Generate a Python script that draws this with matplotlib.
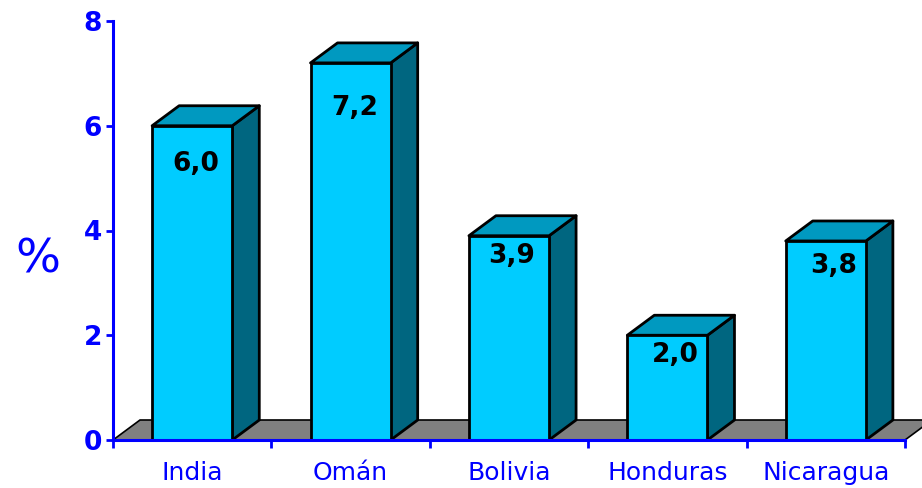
import matplotlib.pyplot as plt
from matplotlib.patches import Polygon

# data
countries = ['India', 'Omán', 'Bolivia', 'Honduras', 'Nicaragua']
values = [6.0, 7.2, 3.9, 2.0, 3.8]
value_labels = ['6,0', '7,2', '3,9', '2,0', '3,8']
yticks = [0, 2, 4, 6, 8]

BLUE = '#0000FF'
FRONT = '#00CCFF'
TOP = '#0099C0'
SIDE = '#006680'
FLOOR = '#808080'

fig = plt.figure(figsize=(9.22, 4.88), dpi=100)
W, H = 922, 488
x0, x1 = 113, 905
y0, y1 = 440, 21
ax = fig.add_axes([x0 / W, (H - y0) / H, (x1 - x0) / W, (y0 - y1) / H])
ax.set_xlim(-0.5, len(countries) - 0.5)
ax.set_ylim(0, 8)
ax.patch.set_visible(False)

# depth of the 3d effect, in data units (27 px right, 20 px up)
px_x = (len(countries)) / (x1 - x0)
px_y = 8 / (y0 - y1)
dx, dy = 27 * px_x, 20 * px_y
bw = 0.506

# floor
xl, xr = -0.5, len(countries) - 0.5
floor = Polygon([(xl, 0), (xr, 0), (xr + dx, dy), (xl + dx, dy)],
                closed=True, facecolor=FLOOR, edgecolor='black', lw=1.2,
                clip_on=False, zorder=1)
ax.add_patch(floor)

# label placement (pixels from the front top corner of each bar)
label_dx = [4, 4, 3, 8, 8]
label_dy = [-45, -52, -27, -27, -32]
for i, v in enumerate(values):
    l, r = i - bw / 2, i + bw / 2
    side = Polygon([(r, 0), (r + dx, dy), (r + dx, v + dy), (r, v)],
                   facecolor=SIDE, edgecolor='black', lw=2, joinstyle='round',
                   clip_on=False, zorder=2)
    top = Polygon([(l, v), (r, v), (r + dx, v + dy), (l + dx, v + dy)],
                  facecolor=TOP, edgecolor='black', lw=2, joinstyle='round',
                  clip_on=False, zorder=2)
    front = Polygon([(l, 0), (r, 0), (r, v), (l, v)],
                    facecolor=FRONT, edgecolor='black', lw=2, joinstyle='round',
                    clip_on=False, zorder=3)
    ax.add_patch(side)
    ax.add_patch(top)
    ax.add_patch(front)
    ax.annotate(value_labels[i], (i, v), xytext=(label_dx[i], label_dy[i]),
                textcoords='offset pixels', ha='center', va='baseline',
                fontsize=19, fontweight='bold', color='black', zorder=5)

for s in ['top', 'right']:
    ax.spines[s].set_visible(False)
for s in ['left', 'bottom']:
    ax.spines[s].set_color(BLUE)
    ax.spines[s].set_linewidth(2.2)
    ax.spines[s].set_zorder(4)

ax.set_yticks(yticks)
ax.set_yticklabels([str(t) for t in yticks], fontsize=19, fontweight='bold', color=BLUE)
ax.tick_params(axis='y', colors=BLUE, width=2, length=5, pad=3)

ax.set_xticks([i - 0.5 for i in range(len(countries) + 1)])
ax.set_xticklabels([])
ax.set_xticks(range(len(countries)), minor=True)
ax.set_xticklabels(countries, minor=True, fontsize=18, color=BLUE)
ax.tick_params(axis='x', which='major', colors=BLUE, width=2, length=6, direction='out')
ax.tick_params(axis='x', which='minor', length=0, pad=15)

fig.text(38 / W, (H - 260) / H, '%', fontsize=34, color=BLUE, ha='center', va='center')

fig.savefig('out.png', dpi=100)
